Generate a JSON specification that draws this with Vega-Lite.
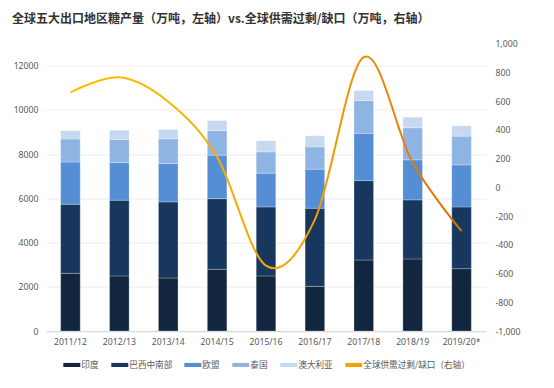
{
  "$schema": "https://vega.github.io/schema/vega-lite/v6.json",
  "width": 440,
  "height": 287.5,
  "autosize": "none",
  "padding": {"left": 46, "top": 43.5, "right": 68, "bottom": 57},
  "background": "#ffffff",
  "title": {
    "text": "全球五大出口地区糖产量（万吨，左轴）vs.全球供需过剩/缺口（万吨，右轴）",
    "anchor": "start",
    "frame": "group",
    "dx": -34,
    "offset": 14,
    "font": "Noto Sans CJK SC",
    "fontSize": 12,
    "fontWeight": "bold",
    "color": "#333333"
  },
  "config": {
    "view": {"stroke": null},
    "axis": {
      "labelFont": "Noto Sans",
      "labelFontSize": 8.7,
      "labelColor": "#595959",
      "ticks": false,
      "title": null
    },
    "legend": {
      "orient": "none",
      "legendX": 17.3,
      "legendY": 312.5,
      "direction": "horizontal",
      "title": null,
      "labelFont": "Noto Sans CJK SC",
      "labelFontSize": 8.6,
      "labelColor": "#595959",
      "symbolSize": 289,
      "symbolStrokeWidth": 0,
      "columnPadding": 12,
      "labelOffset": 1,
      "padding": 0
    }
  },
  "datasets": {
    "prod": [
      {"year": "2011/12", "region": "印度", "value": 2610},
      {"year": "2011/12", "region": "巴西中南部", "value": 3120},
      {"year": "2011/12", "region": "欧盟", "value": 1910},
      {"year": "2011/12", "region": "泰国", "value": 1040},
      {"year": "2011/12", "region": "澳大利亚", "value": 375},
      {"year": "2012/13", "region": "印度", "value": 2490},
      {"year": "2012/13", "region": "巴西中南部", "value": 3425},
      {"year": "2012/13", "region": "欧盟", "value": 1700},
      {"year": "2012/13", "region": "泰国", "value": 1040},
      {"year": "2012/13", "region": "澳大利亚", "value": 425},
      {"year": "2013/14", "region": "印度", "value": 2400},
      {"year": "2013/14", "region": "巴西中南部", "value": 3440},
      {"year": "2013/14", "region": "欧盟", "value": 1730},
      {"year": "2013/14", "region": "泰国", "value": 1120},
      {"year": "2013/14", "region": "澳大利亚", "value": 420},
      {"year": "2014/15", "region": "印度", "value": 2790},
      {"year": "2014/15", "region": "巴西中南部", "value": 3195},
      {"year": "2014/15", "region": "欧盟", "value": 1965},
      {"year": "2014/15", "region": "泰国", "value": 1110},
      {"year": "2014/15", "region": "澳大利亚", "value": 455},
      {"year": "2015/16", "region": "印度", "value": 2490},
      {"year": "2015/16", "region": "巴西中南部", "value": 3120},
      {"year": "2015/16", "region": "欧盟", "value": 1525},
      {"year": "2015/16", "region": "泰国", "value": 965},
      {"year": "2015/16", "region": "澳大利亚", "value": 500},
      {"year": "2016/17", "region": "印度", "value": 2020},
      {"year": "2016/17", "region": "巴西中南部", "value": 3530},
      {"year": "2016/17", "region": "欧盟", "value": 1765},
      {"year": "2016/17", "region": "泰国", "value": 1010},
      {"year": "2016/17", "region": "澳大利亚", "value": 500},
      {"year": "2017/18", "region": "印度", "value": 3210},
      {"year": "2017/18", "region": "巴西中南部", "value": 3590},
      {"year": "2017/18", "region": "欧盟", "value": 2140},
      {"year": "2017/18", "region": "泰国", "value": 1480},
      {"year": "2017/18", "region": "澳大利亚", "value": 450},
      {"year": "2018/19", "region": "印度", "value": 3260},
      {"year": "2018/19", "region": "巴西中南部", "value": 2670},
      {"year": "2018/19", "region": "欧盟", "value": 1810},
      {"year": "2018/19", "region": "泰国", "value": 1450},
      {"year": "2018/19", "region": "澳大利亚", "value": 480},
      {"year": "2019/20*", "region": "印度", "value": 2820},
      {"year": "2019/20*", "region": "巴西中南部", "value": 2790},
      {"year": "2019/20*", "region": "欧盟", "value": 1900},
      {"year": "2019/20*", "region": "泰国", "value": 1300},
      {"year": "2019/20*", "region": "澳大利亚", "value": 470}
    ],
    "bal": [
      {"year": "2011/12", "balance": 660},
      {"year": "2012/13", "balance": 765},
      {"year": "2013/14", "balance": 595},
      {"year": "2014/15", "balance": 210},
      {"year": "2015/16", "balance": -545},
      {"year": "2016/17", "balance": -225},
      {"year": "2017/18", "balance": 905},
      {"year": "2018/19", "balance": 170},
      {"year": "2019/20*", "balance": -305}
    ]
  },
  "layer": [
    {
      "data": {"name": "prod"},
      "transform": [
        {"calculate": "indexof(['印度','巴西中南部','欧盟','泰国','澳大利亚'], datum.region)", "as": "stackOrder"}
      ],
      "mark": {"type": "bar", "stroke": "#ffffff", "strokeWidth": 0.5, "strokeOpacity": 0.5},
      "encoding": {
        "x": {
          "field": "year",
          "type": "ordinal",
          "sort": null,
          "scale": {"paddingInner": 0.6, "paddingOuter": 0.3},
          "axis": {"labelAngle": 0, "domainColor": "#d9d9d9", "labelPadding": 6, "grid": false}
        },
        "y": {
          "aggregate": "sum",
          "field": "value",
          "type": "quantitative",
          "stack": "zero",
          "scale": {"domain": [0, 13000], "nice": false},
          "axis": {
            "values": [0, 2000, 4000, 6000, 8000, 10000, 12000],
            "format": "d",
            "domain": false,
            "grid": true,
            "gridColor": "#ececec",
            "labelPadding": 8
          }
        },
        "color": {
          "field": "region",
          "type": "nominal",
          "scale": {
            "domain": ["印度", "巴西中南部", "欧盟", "泰国", "澳大利亚", "全球供需过剩/缺口（右轴）"],
            "range": ["#12263f", "#17375e", "#558ed5", "#8eb4e3", "#c6d9f1", "#f3a300"]
          },
          "legend": {
            "symbolType": "M-1,-0.24H1V0.24H-1Z",
            "encode": {
              "symbols": {
                "enter": {
                  "shape": {"signal": "datum.value === '全球供需过剩/缺口（右轴）' ? 'M-1,-0.1H1V0.1H-1Z' : 'M-1,-0.24H1V0.24H-1Z'"}
                },
                "update": {
                  "shape": {"signal": "datum.value === '全球供需过剩/缺口（右轴）' ? 'M-1,-0.1H1V0.1H-1Z' : 'M-1,-0.24H1V0.24H-1Z'"}
                }
              }
            }
          }
        },
        "order": {"field": "stackOrder", "type": "quantitative"}
      }
    },
    {
      "data": {"name": "bal"},
      "mark": {
        "type": "line",
        "interpolate": "cardinal",
        "tension": 0,
        "strokeWidth": 2,
        "stroke": {
          "gradient": "linear",
          "x1": 0, "y1": 0, "x2": 1, "y2": 0,
          "stops": [
            {"offset": 0, "color": "#ffc000"},
            {"offset": 0.6, "color": "#f4a300"},
            {"offset": 1, "color": "#e06a0a"}
          ]
        }
      },
      "encoding": {
        "x": {"field": "year", "type": "ordinal", "sort": null},
        "y": {
          "field": "balance",
          "type": "quantitative",
          "scale": {"domain": [-1000, 1000], "nice": false},
          "axis": {
            "orient": "right",
            "values": [-1000, -800, -600, -400, -200, 0, 200, 400, 600, 800, 1000],
            "labelExpr": "replace(format(datum.value, ','), '−', '-')",
            "domain": false,
            "grid": false,
            "labelPadding": 9
          }
        }
      }
    }
  ],
  "resolve": {"scale": {"y": "independent"}}
}
